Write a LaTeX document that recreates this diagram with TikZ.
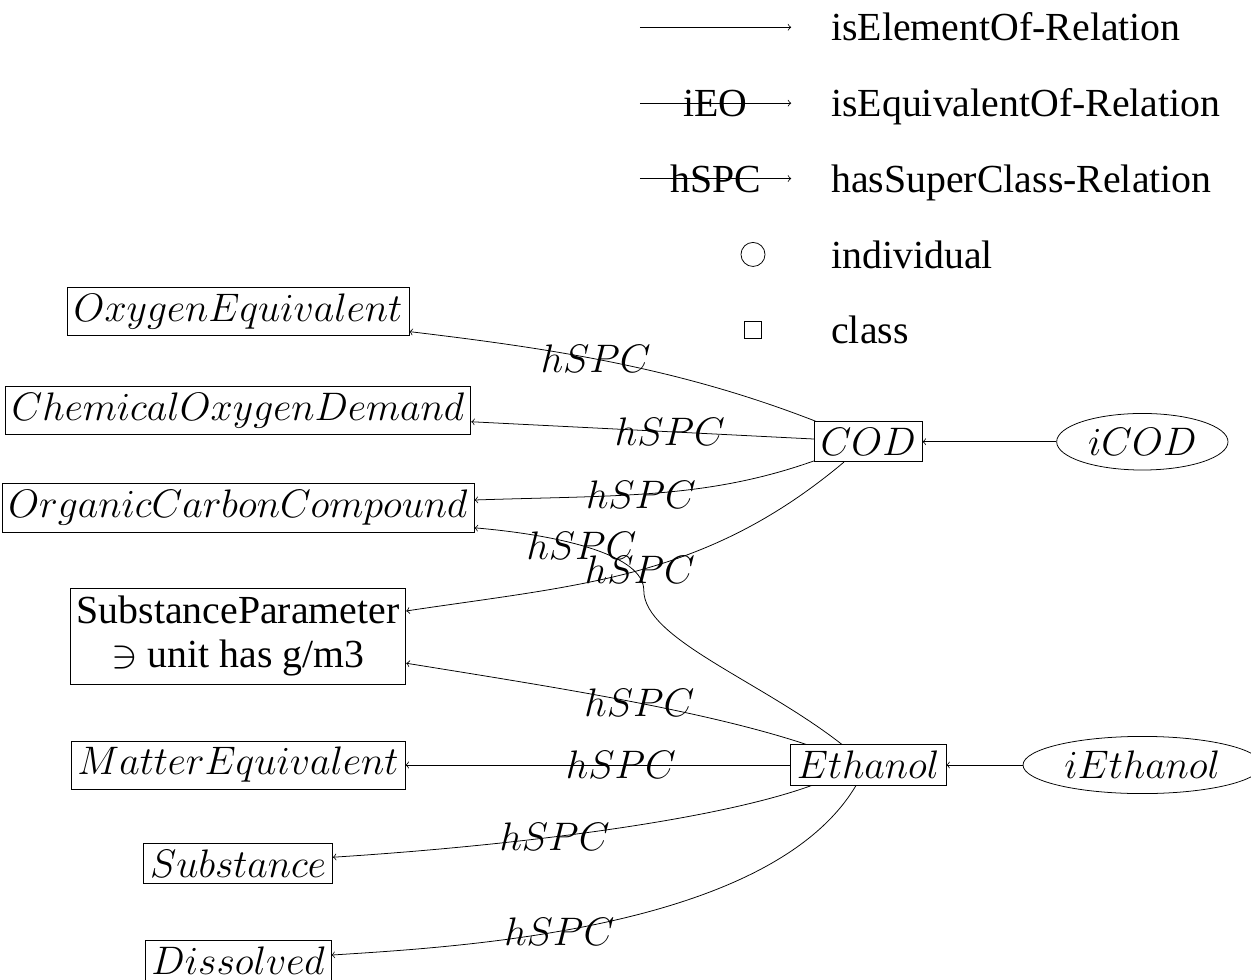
\documentclass[tikz,border=0pt]{standalone}
\usepackage{fontspec}
\setmainfont{Liberation Serif}
\usetikzlibrary{shapes.geometric}
\tikzset{
    classbox/.style={draw,rectangle},
    indivbox/.style={draw,ellipse},
    legendtext/.style={anchor=base west},
}
\newcommand{\hspc}{$hSPC$}

\begin{document}
\begin{tikzpicture}[font=\huge]
    \useasboundingbox (0,0) rectangle (22.91,17.93);
    \clip (0,0) rectangle (22.91,17.93);

    % legend
    \coordinate (elemstart) at (11.72,17.43);
    \coordinate (elemend) at (14.49,17.43);
    \draw[->] (elemstart) -- (elemend);
    \node[legendtext] (elemtext) at (15.10,17.18) {isElementOf-Relation};

    \coordinate (equivstart) at (11.72,16.04);
    \coordinate (equivend) at (14.49,16.04);
    \draw[->] (equivstart) -- node (equivlabel) {iEO} (equivend);
    \node[legendtext] (equivtext) at (15.10,15.79) {isEquivalentOf-Relation};

    \coordinate (superstart) at (11.72,14.66);
    \coordinate (superend) at (14.49,14.66);
    \draw[->] (superstart) -- node (superlabel) {hSPC} (superend);
    \node[legendtext] (supertext) at (15.10,14.41) {hasSuperClass-Relation};

    \node[draw,circle,inner sep=0pt,minimum size=0.44cm] (indivsym) at (13.79,13.27) {};
    \node[legendtext] (indivtext) at (15.10,13.02) {individual};

    \node[draw,rectangle,inner sep=0pt,minimum size=0.31cm] (classsym) at (13.79,11.88) {};
    \node[legendtext] (classtext) at (15.10,11.63) {class};

    % classes and individuals
    \node[classbox] (oxyeq) at (4.36,12.23) {$OxygenEquivalent$};
    \node[classbox] (chemox) at (4.36,10.42) {$ChemicalOxygenDemand$};
    \node[classbox] (orgcarb) at (4.36,8.63) {$OrganicCarbonCompound$};
    \node[classbox,align=center,inner ysep=4pt] (substpar) at (4.36,6.28) {SubstanceParameter\\[-2pt]$\ni$ unit has g/m3};
    \node[classbox] (mattereq) at (4.36,3.92) {$MatterEquivalent$};
    \node[classbox] (substance) at (4.36,2.12) {$Substance$};
    \node[classbox] (dissolved) at (4.36,0.33) {$Dissolved$};

    \node[classbox] (cod) at (15.90,9.84) {$COD$};
    \node[indivbox] (icod) at (20.92,9.84) {$iCOD$};
    \node[classbox] (ethanol) at (15.90,3.92) {$Ethanol$};
    \node[indivbox] (iethanol) at (20.92,3.92) {$iEthanol$};

    % relations
    \draw[->] (icod) -- (cod);
    \draw[->] (iethanol) -- (ethanol);

    \draw[->] (cod) .. controls (12.44,11.19) and (10.15,11.54) .. (oxyeq) node[pos=0.55] (codoxy) {\hspc};
    \draw[->] (cod) -- node[pos=0.42] (codchem) {\hspc} (chemox);
    \draw[->] (cod) .. controls (12.93,8.79) and (11.30,8.86) .. (orgcarb) node[pos=0.55] (codorg) {\hspc};
    \draw[->] (cod) .. controls (12.92,7.34) and (10.70,7.23) .. (substpar) node[pos=0.5] (codsubst) {\hspc};

    \draw[->] (ethanol) .. controls (13.92,5.47) and (11.79,6.23) .. (11.79,7.12)
        .. controls (11.79,7.77) and (10.26,8.13) .. (orgcarb) node[pos=0.55] (ethorg) {\hspc};
    \draw[->] (ethanol) .. controls (12.89,4.92) and (10.13,5.35) .. (substpar) node[pos=0.46] (ethsubst) {\hspc};
    \draw[->] (ethanol) -- node[pos=0.44] (ethmatter) {\hspc} (mattereq);
    \draw[->] (ethanol) .. controls (13.11,2.91) and (9.52,2.45) .. (substance) node[pos=0.6] (ethsubstance) {\hspc};
    \draw[->] (ethanol) .. controls (14.10,0.90) and (8.42,0.59) .. (dissolved) node[pos=0.58] (ethdiss) {\hspc};
\end{tikzpicture}
\end{document}
